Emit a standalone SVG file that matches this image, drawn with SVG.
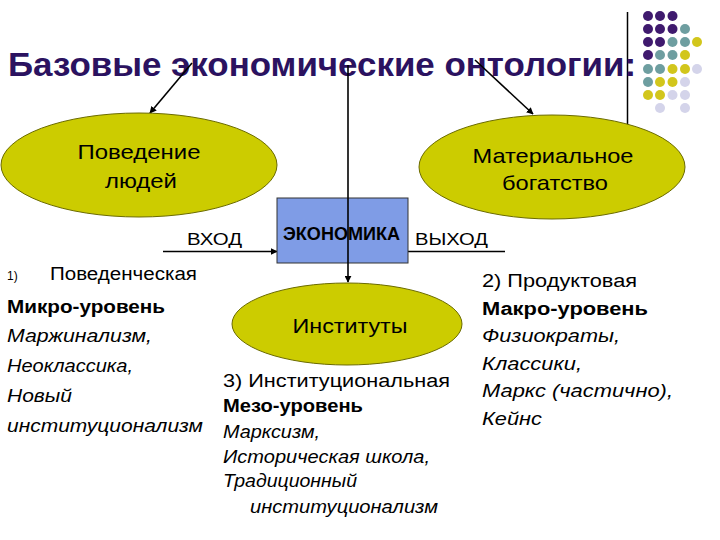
<svg xmlns="http://www.w3.org/2000/svg" width="720" height="540" viewBox="0 0 720 540">
<defs>
<marker id="ah" viewBox="0 0 10 10" refX="9" refY="5" markerWidth="7" markerHeight="7" orient="auto" markerUnits="userSpaceOnUse">
<path d="M0,0 L10,5 L0,10 z" fill="#000"/>
</marker>
<style>
text{font-family:"Liberation Sans",Arial,sans-serif;fill:#000}
.title{font-size:33px;font-weight:bold;fill:#2b1260}
.el{fill:#cccc00;stroke:#6b6b00;stroke-width:1}
.lbl{font-size:21px;text-anchor:middle}
.io{font-size:17px}
.t{font-size:18px}
.b{font-size:18px;font-weight:bold}
.i{font-size:18px;font-style:italic}
.ln{stroke:#000;stroke-width:1.6;fill:none}
.pu{fill:#3f1a6e}.te{fill:#6e9ea0}.ye{fill:#d2c61c}.la{fill:#d4d4ea}
</style>
</defs>
<rect width="720" height="540" fill="#fff"/>
<g id="decor">
<line x1="627.5" y1="12" x2="627.5" y2="140" stroke="#000" stroke-width="1.5"/>
<g>
<circle class="pu" cx="648" cy="16" r="5"/><circle class="pu" cx="660" cy="16" r="5"/><circle class="pu" cx="672.5" cy="16" r="5"/>
<circle class="pu" cx="648" cy="29" r="5"/><circle class="pu" cx="660" cy="29" r="5"/><circle class="pu" cx="672.5" cy="29" r="5"/><circle class="te" cx="685" cy="29" r="5"/>
<circle class="pu" cx="648" cy="42" r="5"/><circle class="pu" cx="660" cy="42" r="5"/><circle class="te" cx="672.5" cy="42" r="5"/><circle class="te" cx="685" cy="42" r="5"/><circle class="ye" cx="697" cy="42" r="5"/>
<circle class="pu" cx="648" cy="55" r="5"/><circle class="te" cx="660" cy="55" r="5"/><circle class="te" cx="672.5" cy="55" r="5"/><circle class="ye" cx="685" cy="55" r="5"/>
<circle class="te" cx="648" cy="69" r="5"/><circle class="te" cx="660" cy="69" r="5"/><circle class="ye" cx="672.5" cy="69" r="5"/><circle class="ye" cx="685" cy="69" r="5"/><circle class="la" cx="697" cy="69" r="5"/>
<circle class="te" cx="648" cy="82" r="5"/><circle class="ye" cx="660" cy="82" r="5"/><circle class="ye" cx="672.5" cy="82" r="5"/><circle class="la" cx="685" cy="82" r="5"/>
<circle class="ye" cx="648" cy="95" r="5"/><circle class="ye" cx="660" cy="95" r="5"/><circle class="la" cx="672.5" cy="95" r="5"/><circle class="la" cx="685" cy="95" r="5"/>
<circle class="la" cx="660" cy="108" r="5"/><circle class="la" cx="685" cy="108" r="5"/>
</g>
</g>
<g id="title">
<text class="title" x="8" y="76" textLength="628" lengthAdjust="spacingAndGlyphs">Базовые экономические онтологии:</text>
</g>
<g id="connectors">
<line class="ln" x1="192" y1="63" x2="150" y2="113" marker-end="url(#ah)"/>
<line class="ln" x1="475" y1="60" x2="533" y2="114" marker-end="url(#ah)"/>
<line class="ln" x1="163" y1="251.5" x2="277" y2="251.5" marker-end="url(#ah)"/>
<line class="ln" x1="408" y1="251.5" x2="505" y2="251.5"/>
</g>
<g id="behavior">
<ellipse class="el" cx="139" cy="165" rx="138" ry="52"/>
<text class="lbl" x="139" y="159" textLength="123" lengthAdjust="spacingAndGlyphs">Поведение</text>
<text class="lbl" x="141" y="188" textLength="72" lengthAdjust="spacingAndGlyphs">людей</text>
</g>
<g id="wealth">
<ellipse class="el" cx="552" cy="167" rx="133" ry="52"/>
<text class="lbl" x="553" y="163" textLength="161" lengthAdjust="spacingAndGlyphs">Материальное</text>
<text class="lbl" x="555" y="190" textLength="106" lengthAdjust="spacingAndGlyphs">богатство</text>
</g>
<g id="economy">
<rect x="277" y="198" width="131" height="65" fill="#7f9ce6" stroke="#333" stroke-width="1"/>
<text x="283" y="240" font-size="18" font-weight="bold" textLength="117" lengthAdjust="spacingAndGlyphs">ЭКОНОМИКА</text>
</g>
<g id="vline">
<line class="ln" x1="348" y1="65" x2="348" y2="282" marker-end="url(#ah)"/>
</g>
<g id="institutes">
<ellipse class="el" cx="347" cy="324" rx="115" ry="41"/>
<text class="lbl" x="350" y="333" textLength="115" lengthAdjust="spacingAndGlyphs">Институты</text>
</g>
<g id="io">
<text class="io" x="187" y="245" textLength="55" lengthAdjust="spacingAndGlyphs">ВХОД</text>
<text class="io" x="415" y="245" textLength="73" lengthAdjust="spacingAndGlyphs">ВЫХОД</text>
</g>
<g id="left-text">
<text x="7" y="280" font-size="12">1)</text>
<text class="t" x="50" y="280" textLength="147" lengthAdjust="spacingAndGlyphs">Поведенческая</text>
<text class="b" x="7" y="313" textLength="158" lengthAdjust="spacingAndGlyphs">Микро-уровень</text>
<text class="i" x="7" y="342" textLength="145" lengthAdjust="spacingAndGlyphs">Маржинализм,</text>
<text class="i" x="7" y="372" textLength="126" lengthAdjust="spacingAndGlyphs">Неоклассика,</text>
<text class="i" x="7" y="402" textLength="65" lengthAdjust="spacingAndGlyphs">Новый</text>
<text class="i" x="7" y="432" textLength="196" lengthAdjust="spacingAndGlyphs">институционализм</text>
</g>
<g id="mid-text">
<text class="t" x="223" y="387" textLength="227" lengthAdjust="spacingAndGlyphs">3) Институциональная</text>
<text class="b" x="223" y="412" font-size="16" textLength="140" lengthAdjust="spacingAndGlyphs">Мезо-уровень</text>
<text class="i" x="223" y="438" font-size="16" textLength="97" lengthAdjust="spacingAndGlyphs">Марксизм,</text>
<text class="i" x="223" y="463" font-size="16" textLength="207" lengthAdjust="spacingAndGlyphs">Историческая школа,</text>
<text class="i" x="223" y="487" font-size="16" textLength="134" lengthAdjust="spacingAndGlyphs">Традиционный</text>
<text class="i" x="250" y="513" font-size="16" textLength="188" lengthAdjust="spacingAndGlyphs">институционализм</text>
</g>
<g id="right-text">
<text class="t" x="482" y="287" textLength="155" lengthAdjust="spacingAndGlyphs">2) Продуктовая</text>
<text class="b" x="482" y="315" textLength="166" lengthAdjust="spacingAndGlyphs">Макро-уровень</text>
<text class="i" x="482" y="342" textLength="138" lengthAdjust="spacingAndGlyphs">Физиократы,</text>
<text class="i" x="482" y="370" textLength="100" lengthAdjust="spacingAndGlyphs">Классики,</text>
<text class="i" x="482" y="397" textLength="191" lengthAdjust="spacingAndGlyphs">Маркс (частично),</text>
<text class="i" x="482" y="425" textLength="60" lengthAdjust="spacingAndGlyphs">Кейнс</text>
</g>
</svg>
